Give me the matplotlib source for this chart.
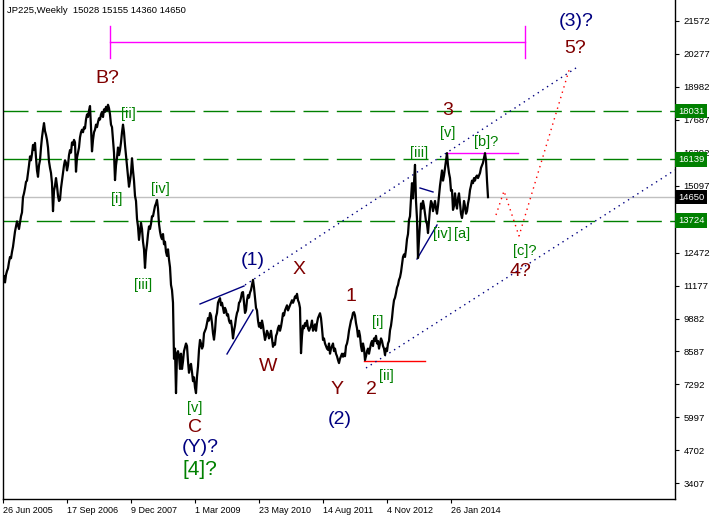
import matplotlib
matplotlib.use('Agg')
import matplotlib.pyplot as plt

# weekly closes of JP225, week 0 = 26 Jun 2005
closes = [
    11400, 11550, 11300, 11600, 11750, 11850, 12100, 12300, 12250, 12500,
    12700, 13000, 13300, 13500, 13700, 13550, 13400, 13650, 13900, 14050,
    14650, 14800, 15000, 15250, 15300, 15600, 15900, 16250, 16100, 16350,
    16700, 16500, 16780, 16200, 15700, 15450, 15900, 16100, 16600, 17000,
    17300, 17560, 17250, 17100, 16900, 16600, 16050, 15800, 15600, 15200,
    14100, 14900, 15100, 15400, 15100, 14700, 14500, 14550, 15000, 15300,
    15600, 15900, 16100, 16000, 15700, 15900, 16300, 16500, 16400, 16800,
    16700, 16900, 16800, 15650, 16200, 16400, 16600, 17000, 17200, 17300,
    17200, 17400, 17350, 17700, 17900, 17800, 18050, 18230, 17400, 16450,
    16900, 17200, 17300, 17500, 17400, 17600, 17750, 17700, 17900, 18000,
    17800, 18100, 18000, 18200, 18050, 18280, 18150, 17900, 17500, 17400,
    16900, 16400, 15320, 15900, 16200, 16600, 16300, 16500, 16800, 17200,
    17500, 17200, 16700, 16300, 15900, 15500, 15060, 15300, 15600, 16180,
    15700, 15300, 14700, 14500, 13800, 13500, 12970, 13300, 13640, 13400,
    12900, 12600, 11870, 12500, 12800, 13200, 13500, 13400, 13600, 13900,
    13900, 14100, 14300, 14400, 14540, 14200, 13600, 13300, 13100, 13000,
    13200, 12800, 12900, 12500, 12340, 12600, 12200, 11900, 11200, 11000,
    10500, 8300, 8700, 6950, 8500, 8600, 8400, 7900, 8500, 7900,
    8200, 8600, 8750, 8900, 8800, 8200, 7750, 8000, 8100, 7780,
    7420, 7570, 7170, 6950, 7600, 8000, 8650, 9040, 8900, 8700,
    8800, 9300, 9400, 9500, 9700, 9900, 9800, 10100, 10000, 9700,
    9300, 9050, 9400, 9950, 10100, 10500, 10600, 10680, 10400, 10500,
    10300, 10100, 10300, 10200, 10000, 10050, 9800, 9700, 9800, 9500,
    9100, 9400, 9600, 9900, 10100, 10200, 10500, 10550, 10700, 10900,
    10920, 10500, 10100, 10200, 10600, 10800, 10700, 10900, 11000, 11200,
    11400, 11100, 10700, 10300, 10200, 9800, 9560, 9700, 9500, 9800,
    9600, 9300, 9040, 9200, 9400, 9300, 9100, 9200, 9400, 9100,
    8770, 8900, 8850, 9200, 9300, 9500, 9600, 9400, 9560, 9800,
    10090, 10000, 10200, 10300, 10400, 10200, 10300, 10400, 10500, 10600,
    10500, 10600, 10750, 10700, 10850, 10600, 10500, 10300, 8520, 9200,
    9600, 9500, 9700, 9600, 9800, 9500, 9400, 9500, 9600, 9800,
    9400, 9500, 9650, 9400, 9700, 9900, 10000, 10090, 9900, 9500,
    9040, 9100, 8900, 8800, 8700, 8650, 8900, 8500, 8700, 8800,
    8900, 8600, 8700, 8500, 8400, 8250, 8130, 8300, 8400, 8500,
    8380, 8500, 8400, 8800, 8900, 9100, 9400, 9600, 9800, 9900,
    10100, 10130, 10000, 9700, 9500, 9170, 9400, 9200, 8800, 8600,
    8900, 8700, 8250, 8400, 8600, 8700, 8500, 8700, 8900, 9000,
    8800, 9100, 9000, 9200, 8900, 9000, 8700, 8900, 9100, 9000,
    8800, 8700, 8450, 8700, 8600, 8900, 9000, 9420, 9600, 9900,
    10300, 10600, 10700, 10880, 11100, 11200, 11400, 11500, 11700, 12000,
    12300, 12400, 12300, 12600, 13000, 13200, 13750, 13900, 14600, 15200,
    14600, 15200, 15920, 14500, 13800, 12260, 13000, 13600, 14400, 14200,
    14500, 14300, 14000, 13700, 13600, 13240, 13700, 14200, 14500, 14400,
    14100, 14300, 14500, 14200, 14000, 14300, 14700, 15100, 15400, 15700,
    15300, 15500, 15800, 16100, 16380, 15900, 15600, 15400, 14900, 14930,
    14150, 14300, 14800, 14400, 14200, 14600, 14800, 14400, 14000, 13830,
    14100, 14500, 14300, 14000, 14100, 14400, 14600, 14930, 15100, 15300,
    15200, 15400, 15300, 15450, 15500, 15400, 15500, 15600, 15800, 15900,
    16000, 16200, 16380, 16100, 15300, 14650,
]
weeks = list(range(len(closes)))

# time axis labels (every 64 weeks)
date_weeks = [0, 64, 128, 192, 256, 320, 384, 448]
date_labels = ['26 Jun 2005', '17 Sep 2006', '9 Dec 2007', '1 Mar 2009',
               '23 May 2010', '14 Aug 2011', '4 Nov 2012', '26 Jan 2014']

# price axis labels
price_ticks = [3407, 4702, 5997, 7292, 8587, 9882, 11177, 12472,
               15097, 16392, 17687, 18982, 20277, 21572]

# horizontal levels
green_levels = [18031, 16139, 13724]
last_close = 14650

# drawn objects (week, price)
magenta_span = [107, 522]
magenta_price = 20747
magenta_ends = [20120, 21380]
b_line_weeks = [444, 515]
b_line_price = 16380
red_line_weeks = [361, 422]
red_line_price = 8210
upper_channel = ([242, 576], [11199, 19804])
lower_channel = ([363, 672], [7937, 15717])
wedge_lines = [
    ([197, 241], [10452, 11159]),
    ([224, 250], [8488, 10216]),
    ([414, 434], [12220, 13556]),
    ([417, 430], [15010, 14853]),
]
forecast_weeks = [493, 501, 516, 567]
forecast_prices = [13949, 14892, 13124, 19765]

# wave labels: text, week, price, colour, size
maroon = '#800000'
navy = '#000080'
green = '#008000'
wave_labels = [
    ('B?', 104, 19293, maroon, 14),
    ('[ii]', 125, 17918, green, 10.5),
    ('[i]', 114, 14578, green, 10.5),
    ('[iv]', 157, 14971, green, 10.5),
    ('[iii]', 140, 11199, green, 10.5),
    ('[v]', 192, 6366, green, 10.5),
    ('C', 192, 5580, maroon, 14),
    ('(Y)?', 197, 4794, navy, 14),
    ('[4]?', 197, 3930, green, 15),
    ('(1)', 250, 12142, navy, 14),
    ('X', 296, 11788, maroon, 14),
    ('W', 265, 7977, maroon, 14),
    ('1', 348, 10727, maroon, 14),
    ('Y', 334, 7112, maroon, 14),
    ('2', 368, 7073, maroon, 14),
    ('(2)', 337, 5894, navy, 14),
    ('[i]', 375, 9745, green, 10.5),
    ('[ii]', 383, 7623, green, 10.5),
    ('[iii]', 416, 16385, green, 10.5),
    ('[v]', 445, 17171, green, 10.5),
    ('3', 445, 18036, maroon, 14),
    ('[b]?', 483, 16818, green, 10.5),
    ('[iv]', 439, 13203, green, 10.5),
    ('[a]', 459, 13203, green, 10.5),
    ('[c]?', 522, 12535, green, 10.5),
    ('4?', 517, 11710, maroon, 14),
    ('(3)?', 573, 21533, navy, 14),
    ('5?', 572, 20472, maroon, 14),
]

plt.rcParams['font.family'] = ['Liberation Sans', 'DejaVu Sans']

fig = plt.figure(figsize=(7.15, 5.17), dpi=100)
ax = fig.add_axes([3 / 715, 17.7 / 517, 672 / 715, 499.3 / 517])
ax.set_xlim(0, 672)
ax.set_ylim(2778, 22397)

# levels
for lvl in green_levels:
    ax.axhline(lvl, color=green, lw=1, dashes=(18, 6), zorder=1)
ax.axhline(last_close, color='#c0c0c0', lw=1, zorder=1)

# price line
ax.plot(weeks, closes, color='black', lw=1.6, zorder=3)

# magenta bracket
ax.plot(magenta_span, [magenta_price] * 2, color='#ff00ff', lw=1)
for w in magenta_span:
    ax.plot([w, w], magenta_ends, color='#ff00ff', lw=1)
ax.plot(b_line_weeks, [b_line_price] * 2, color='#ff00ff', lw=1)
ax.plot(red_line_weeks, [red_line_price] * 2, color='red', lw=1)

# channel
ax.plot(*upper_channel, color=navy, lw=1, ls=(0, (1, 3)))
ax.plot(*lower_channel, color=navy, lw=1, ls=(0, (1, 3)))
for xs, ys in wedge_lines:
    ax.plot(xs, ys, color=navy, lw=1)

# forecast path
ax.plot(forecast_weeks, forecast_prices, color='red', lw=1, ls=(0, (1, 3)))

for txt, w, p, col, size in wave_labels:
    ax.text(w, p, txt, color=col, fontsize=size, ha='center', va='center', zorder=4)

# header
ax.text(0.006, 0.978, 'JP225,Weekly  15028 15155 14360 14650', transform=ax.transAxes,
        fontsize=6.8, ha='left', va='center')

# axes styling
ax.spines['top'].set_visible(False)
for s in ['left', 'right', 'bottom']:
    ax.spines[s].set_linewidth(1)
ax.yaxis.tick_right()
ax.set_yticks(price_ticks)
ax.set_yticklabels([str(p) for p in price_ticks], fontsize=6.8)
ax.tick_params(axis='y', length=3, pad=3)
ax.set_xticks(date_weeks)
ax.set_xticklabels(date_labels, fontsize=6.5, ha='left')
ax.tick_params(axis='x', length=3, pad=2)

# value boxes on the price scale
yt = ax.get_yaxis_transform()
for lvl in green_levels:
    ax.text(1.0045, lvl, str(lvl), transform=yt, color='white', fontsize=6.8,
            ha='left', va='center', clip_on=False, zorder=5,
            bbox=dict(boxstyle='square,pad=0.3', fc=green, ec='none'))
ax.text(1.0045, last_close, str(last_close), transform=yt, color='white', fontsize=6.8,
        ha='left', va='center', clip_on=False, zorder=5,
        bbox=dict(boxstyle='square,pad=0.3', fc='black', ec='none'))

fig.savefig('out.png', dpi=100)
